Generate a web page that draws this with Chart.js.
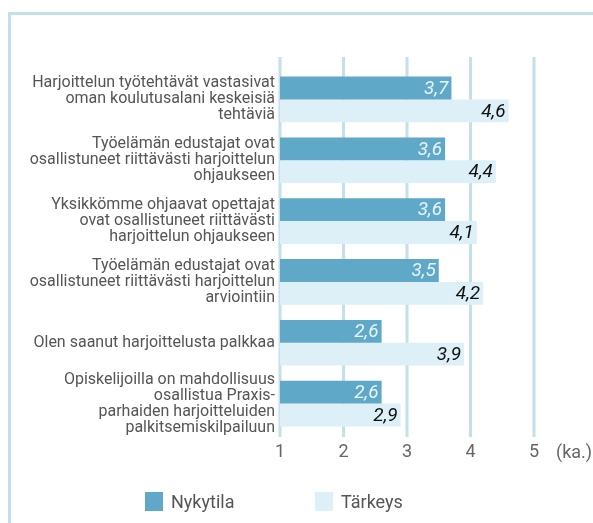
<!DOCTYPE html>
<html>
<head>
<meta charset="utf-8">
<script src="https://cdn.jsdelivr.net/npm/chart.js@4.4.0/dist/chart.umd.min.js"></script>
<style>
  body { margin: 0; background: #fff; }
  #wrap { position: relative; width: 593px; height: 523px; overflow: hidden; }
  #frame { position: absolute; left: 8px; top: 12px; right: -10px; bottom: -10px;
           border-top: 3px solid #c4e0e9; border-left: 3px solid #c4e0e9; }
  #myChart { position: absolute; left: 0; top: 0; }
  #legend { position: absolute; top: 492px; left: 0; width: 593px; height: 20px;
            font-family: Roboto, sans-serif; font-size: 18px; color: #555; }
  .item { position: absolute; top: 0; height: 19px; line-height: 19px; }
  .box { display: inline-block; width: 18px; height: 19px; vertical-align: top; margin-right: 8px; }
</style>
</head>
<body>
<div id="wrap">
  <div id="frame"></div>
  <canvas id="myChart" width="593" height="523"></canvas>
  <div id="legend"></div>
</div>
<script>
var categories = [
	["Harjoittelun työtehtävät vastasivat", "oman koulutusalani keskeisiä", "tehtäviä"],
	["Työelämän edustajat ovat", "osallistuneet riittävästi harjoittelun", "ohjaukseen"],
	["Yksikkömme ohjaavat opettajat", "ovat osallistuneet riittävästi", "harjoittelun ohjaukseen"],
	["Työelämän edustajat ovat", "osallistuneet riittävästi harjoittelun", "arviointiin"],
	"Olen saanut harjoittelusta palkkaa",
	["Opiskelijoilla on mahdollisuus", "osallistua Praxis-", "parhaiden harjoitteluiden", "palkitsemiskilpailuun"]
];
var nykytila = [3.7, 3.6, 3.6, 3.5, 2.6, 2.6];
var tarkeys = [4.6, 4.4, 4.1, 4.2, 3.9, 2.9];
var xTicks = [1, 2, 3, 4, 5];
var unitLabel = "(ka.)";

var FONT = 'Roboto, sans-serif';

// vertical grid lines, a bit taller than the plot area
var gridPlugin = {
	id: 'gridLines',
	beforeDatasetsDraw: function(chart) {
		var ctx = chart.ctx, x = chart.scales.x, area = chart.chartArea;
		ctx.save();
		ctx.strokeStyle = "#c4e0e9";
		ctx.lineWidth = 3;
		xTicks.forEach(function(v) {
			var px = x.getPixelForValue(v);
			ctx.beginPath();
			ctx.moveTo(px, area.top - 12);
			ctx.lineTo(px, area.bottom + 3);
			ctx.stroke();
		});
		ctx.restore();
	}
};

// numbers inside the bar ends + unit label
var valuePlugin = {
	id: 'values',
	afterDatasetsDraw: function(chart) {
		var ctx = chart.ctx;
		ctx.save();
		ctx.font = 'italic 19px ' + FONT;
		ctx.textAlign = 'right';
		ctx.textBaseline = 'middle';
		chart.data.datasets.forEach(function(ds, di) {
			var meta = chart.getDatasetMeta(di);
			ctx.fillStyle = di === 0 ? "#e8f4f9" : "#111";
			meta.data.forEach(function(bar, i) {
				ctx.fillText(String(ds.data[i]).replace('.', ','), bar.x - 3, bar.y + 1);
			});
		});
		var x = chart.scales.x;
		ctx.font = '18px ' + FONT;
		ctx.fillStyle = "#666";
		ctx.textAlign = 'left';
		ctx.fillText(unitLabel, x.getPixelForValue(5) + 22, chart.chartArea.bottom + 19);
		ctx.restore();
	}
};

var ctx = document.getElementById("myChart");
var myChart = new Chart(ctx, {
	type: "bar",
	data: {
		labels: categories,
		datasets: [
			{
				label: "Nykytila",
				data: nykytila,
				backgroundColor: "#5fa8c8",
				categoryPercentage: 0.75,
				barPercentage: 1.0
			},
			{
				label: "Tärkeys",
				data: tarkeys,
				backgroundColor: "#def0f7",
				categoryPercentage: 0.75,
				barPercentage: 1.0
			}
		]
	},
	options: {
		indexAxis: 'y',
		responsive: false,
		animation: false,
		layout: { padding: { top: 69, left: 0, right: 59, bottom: 49 } },
		plugins: {
			legend: { display: false },
			tooltip: { enabled: false }
		},
		scales: {
			x: {
				min: 1,
				max: 5,
				afterBuildTicks: function(axis) {
					axis.ticks = xTicks.map(function(v) { return { value: v }; });
				},
				afterFit: function(s) { s.height = 40; },
				grid: { display: false, drawTicks: false },
				border: { display: false },
				ticks: {
					color: "#666",
					padding: 8,
					font: { family: FONT, size: 18 }
				}
			},
			y: {
				afterFit: function(s) { s.width = 280; },
				grid: { display: false, drawTicks: false },
				border: { display: false },
				ticks: {
					autoSkip: false,
					color: "#555",
					padding: 5,
					font: { family: FONT, size: 16, lineHeight: 1.0 }
				}
			}
		}
	},
	plugins: [gridPlugin, valuePlugin]
});

// legend below the chart
var legendPos = [145, 315];
var legend = document.getElementById("legend");
myChart.data.datasets.forEach(function(ds, i) {
	var item = document.createElement("div");
	item.className = "item";
	item.style.left = legendPos[i] + "px";
	item.innerHTML = '<span class="box" style="background:' + ds.backgroundColor + '"></span>' + ds.label;
	legend.appendChild(item);
});
</script>
</body>
</html>
